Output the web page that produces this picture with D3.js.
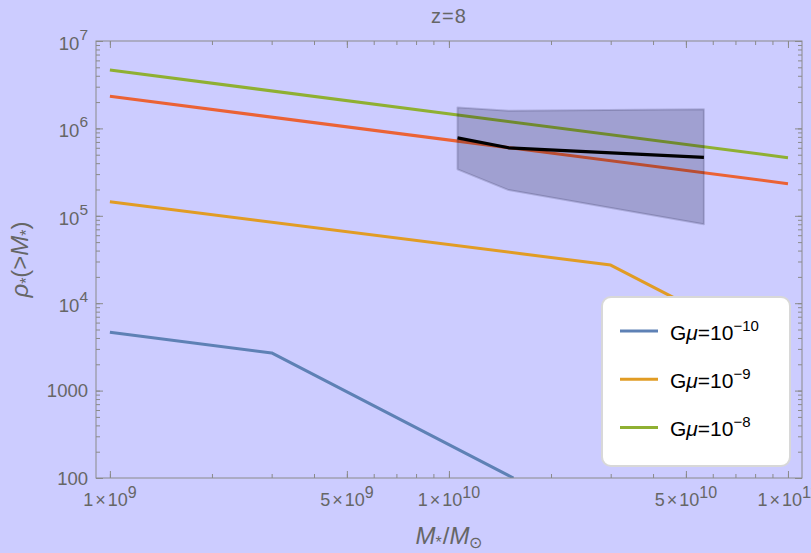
<!DOCTYPE html>
<html>
<head>
<meta charset="utf-8">
<script src="https://cdn.jsdelivr.net/npm/d3@7"></script>
<style>
  body { margin: 0; background: #ccccff; }
  svg { display: block; font-family: "Liberation Sans", Arial, sans-serif; }
</style>
</head>
<body>
<svg id="chart" width="811" height="553"></svg>
<script>
// ---- data: cumulative stellar mass density rho*(>M*) at z = 8 ----
const massBlue   = [1e9, 3e9, 1.55e10];
const rhoBlue    = [4650, 2700, 100];          // G mu = 1e-10
const massOrange = [1e9, 3e10, 1e11];
const rhoOrange  = [1.45e5, 2.73e4, 2450];     // G mu = 1e-9
const massGreen  = [1e9, 1e11];
const rhoGreen   = [4.66e6, 4.62e5];           // G mu = 1e-8
const massRed    = [1e9, 1e11];
const rhoRed     = [2.33e6, 2.33e5];           // LCDM reference curve

// observed estimate and its uncertainty band
const obsMass  = [1.06e10, 1.5e10, 5.65e10];
const obsRho   = [7.8e5, 6.0e5, 4.67e5];
const bandHigh = [1.74e6, 1.59e6, 1.66e6];
const bandLow  = [3.4e5, 1.97e5, 8.0e4];

// axes
const xDomain = [9.1e8, 1.1e11];
const yDomain = [100, 1e7];
const xTickValues = [1e9, 5e9, 1e10, 5e10, 1e11];
const xTickMant   = ["1", "5", "1", "5", "1"];
const xTickExp    = ["9", "9", "10", "10", "11"];
const yTickValues = [100, 1000, 1e4, 1e5, 1e6, 1e7];
const yTickBase   = ["100", "1000", "10", "10", "10", "10"];
const yTickExp    = ["", "", "4", "5", "6", "7"];

const legendLabels = ["\u221210", "\u22129", "\u22128"];
const colors = { blue: "#5E81B5", orange: "#E19C24", green: "#8FB032", red: "#EB6235" };

// ---- layout ----
const frame = { left: 96, right: 802, top: 41, bottom: 478 };
const svg = d3.select("#chart");
const x = d3.scaleLog().domain(xDomain).range([frame.left, frame.right]);
const y = d3.scaleLog().domain(yDomain).range([frame.bottom, frame.top]);

const frameColor = "#8a8a8a";
const textColor = "#666666";

function allLogTicks(domain) {
  const out = [];
  const lo = Math.floor(Math.log10(domain[0])), hi = Math.ceil(Math.log10(domain[1]));
  for (let n = lo; n <= hi; n++) {
    for (let k = 1; k < 10; k++) {
      const v = k * Math.pow(10, n);
      if (v >= domain[0] * 0.9999 && v <= domain[1] * 1.0001) out.push(v);
    }
  }
  return out;
}

// ---- ticks on all four sides, pointing inward ----
function drawAxis(axisFn, scale, values, size, transform) {
  const g = svg.append("g")
    .attr("transform", transform)
    .call(axisFn(scale).tickValues(values).tickSize(-size).tickFormat(""));
  g.select(".domain").remove();
  g.selectAll(".tick line").attr("stroke", frameColor).attr("stroke-width", 1);
}
const xMinor = allLogTicks(xDomain), yMinor = allLogTicks(yDomain);
drawAxis(d3.axisBottom, x, xMinor, 4, `translate(0,${frame.bottom})`);
drawAxis(d3.axisBottom, x, xTickValues, 7, `translate(0,${frame.bottom})`);
drawAxis(d3.axisTop, x, xMinor, 4, `translate(0,${frame.top})`);
drawAxis(d3.axisTop, x, xTickValues, 7, `translate(0,${frame.top})`);
drawAxis(d3.axisLeft, y, yMinor, 4, `translate(${frame.left},0)`);
drawAxis(d3.axisLeft, y, yTickValues, 7, `translate(${frame.left},0)`);
drawAxis(d3.axisRight, y, yMinor, 4, `translate(${frame.right},0)`);
drawAxis(d3.axisRight, y, yTickValues, 7, `translate(${frame.right},0)`);

// ---- plotted curves ----
svg.append("clipPath").attr("id", "plotClip")
  .append("rect")
  .attr("x", frame.left).attr("y", frame.top)
  .attr("width", frame.right - frame.left).attr("height", frame.bottom - frame.top);

const plot = svg.append("g").attr("clip-path", "url(#plotClip)");
const line = d3.line().x(d => x(d[0])).y(d => y(d[1]));
const zip = (a, b) => a.map((v, i) => [v, b[i]]);

const curves = [
  { m: massBlue, r: rhoBlue, c: colors.blue },
  { m: massOrange, r: rhoOrange, c: colors.orange },
  { m: massGreen, r: rhoGreen, c: colors.green },
  { m: massRed, r: rhoRed, c: colors.red }
];
curves.forEach(s => {
  plot.append("path")
    .attr("d", line(zip(s.m, s.r)))
    .attr("fill", "none")
    .attr("stroke", s.c)
    .attr("stroke-width", 3)
    .attr("stroke-linejoin", "round");
});

// uncertainty band
const bandPts = zip(obsMass, bandHigh).concat(zip(obsMass, bandLow).reverse());
plot.append("path")
  .attr("d", line(bandPts) + "Z")
  .attr("fill", "rgba(0,0,40,0.21)")
  .attr("stroke", "rgba(0,0,40,0.16)")
  .attr("stroke-width", 2)
  .attr("stroke-linejoin", "round");

// observed estimate
plot.append("path")
  .attr("d", line(zip(obsMass, obsRho)))
  .attr("fill", "none")
  .attr("stroke", "#000")
  .attr("stroke-width", 3.2)
  .attr("stroke-linejoin", "round");

// frame
svg.append("rect")
  .attr("x", frame.left).attr("y", frame.top)
  .attr("width", frame.right - frame.left).attr("height", frame.bottom - frame.top)
  .attr("fill", "none").attr("stroke", frameColor).attr("stroke-width", 1);

// ---- tick labels ----
xTickValues.forEach((v, i) => {
  const t = svg.append("text")
    .attr("x", x(v)).attr("y", 506)
    .attr("text-anchor", "middle")
    .attr("fill", textColor).attr("font-size", 18);
  t.append("tspan").text(xTickMant[i]);
  t.append("tspan").attr("dx", 2).text("\u00d7");
  t.append("tspan").attr("dx", 2).text("10");
  t.append("tspan").attr("dy", -8).attr("font-size", 16).text(xTickExp[i]);
});

yTickValues.forEach((v, i) => {
  const hasExp = yTickExp[i] !== "";
  const t = svg.append("text")
    .attr("x", 88).attr("y", y(v) + (hasExp ? 9 : 6.5))
    .attr("text-anchor", "end")
    .attr("fill", textColor).attr("font-size", 18.5);
  t.append("tspan").text(yTickBase[i]);
  if (hasExp) t.append("tspan").attr("dy", -10).attr("font-size", 15.5).text(yTickExp[i]);
});

// ---- title and axis labels ----
svg.append("text")
  .attr("x", (frame.left + frame.right) / 2).attr("y", 23)
  .attr("text-anchor", "middle").attr("fill", textColor).attr("font-size", 20)
  .attr("letter-spacing", 1)
  .text("z=8");

const xl = svg.append("text")
  .attr("x", (frame.left + frame.right) / 2).attr("y", 544)
  .attr("text-anchor", "middle").attr("fill", textColor).attr("font-size", 24);
xl.append("tspan").attr("font-style", "italic").text("M");
xl.append("tspan").attr("font-size", 16).attr("dy", 4).text("*");
xl.append("tspan").attr("dy", -4).attr("dx", 1).text("/");
xl.append("tspan").attr("font-style", "italic").text("M");
xl.append("tspan").attr("font-size", 16).attr("dy", 4).text("\u2299");

const yl = svg.append("text")
  .attr("transform", `translate(28,${(frame.top + frame.bottom) / 2}) rotate(-90)`)
  .attr("text-anchor", "middle").attr("fill", textColor).attr("font-size", 24);
yl.append("tspan").attr("font-style", "italic").text("\u03c1");
yl.append("tspan").attr("font-size", 16).attr("dy", 4).text("*");
yl.append("tspan").attr("dy", -4).text("(>");
yl.append("tspan").attr("font-style", "italic").text("M");
yl.append("tspan").attr("font-size", 16).attr("dy", 4).text("*");
yl.append("tspan").attr("dy", -4).text(")");

// ---- legend ----
const lg = svg.append("g");
lg.append("rect")
  .attr("x", 602).attr("y", 297).attr("width", 188).attr("height", 169)
  .attr("rx", 9).attr("fill", "#fff")
  .attr("stroke", "#d8d8d8").attr("stroke-width", 2);
const legendColors = [colors.blue, colors.orange, colors.green];
legendLabels.forEach((lab, i) => {
  const cy = 331 + i * 48.3;
  lg.append("line")
    .attr("x1", 620).attr("x2", 658).attr("y1", cy).attr("y2", cy)
    .attr("stroke", legendColors[i]).attr("stroke-width", 3);
  const t = lg.append("text")
    .attr("x", 670).attr("y", cy + 8.6)
    .attr("fill", "#000").attr("font-size", 21);
  t.append("tspan").text("G");
  t.append("tspan").attr("font-style", "italic").text("\u03bc");
  t.append("tspan").text("=10");
  t.append("tspan").attr("dy", -9).attr("font-size", 15).text(lab);
});
</script>
</body>
</html>
